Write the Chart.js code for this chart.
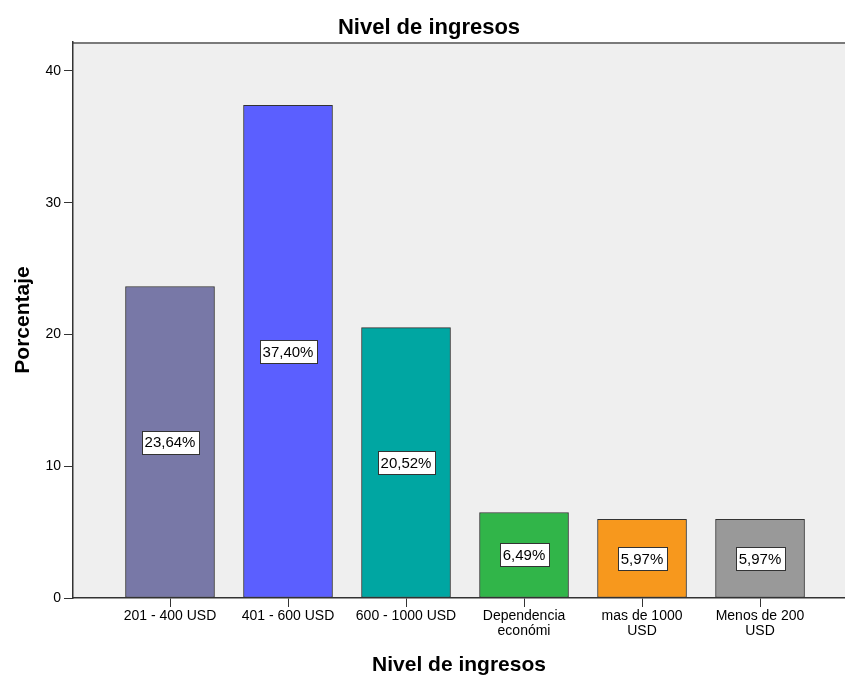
<!DOCTYPE html>
<html>
<head>
    <title>Nivel de ingresos</title>
    <meta charset="utf-8" />
    <style>
        body { margin: 0; background: #fff; }
    </style>
    <script src="https://cdn.jsdelivr.net/npm/chart.js"></script>
</head>
<body>
    <canvas id="myChart" width="845" height="675"></canvas>
<script>
let categories = [
    '201 - 400 USD',
    '401 - 600 USD',
    '600 - 1000 USD',
    ['Dependencia', 'económi'],
    ['mas de 1000', 'USD'],
    ['Menos de 200', 'USD']
];
let porcentajes = [23.64, 37.40, 20.52, 6.49, 5.97, 5.97];
let colores = ['#7878a7', '#5b5fff', '#00a6a2', '#31b549', '#f7981d', '#999999'];
let yTicks = [0, 10, 20, 30, 40];

let fuente = "'Liberation Sans', Arial, sans-serif";

// fondo gris del area de trazado y linea superior
let fondo = {
    id: 'fondo',
    beforeDraw(chart) {
        let ctx = chart.ctx, a = chart.chartArea;
        ctx.save();
        ctx.fillStyle = '#efefef';
        ctx.fillRect(a.left, a.top, a.right - a.left, a.bottom - a.top);
        ctx.strokeStyle = '#7a7a7a';
        ctx.lineWidth = 2;
        ctx.beginPath();
        ctx.moveTo(a.left, a.top + 1);
        ctx.lineTo(a.right, a.top + 1);
        ctx.stroke();
        ctx.restore();
    }
};

// etiquetas de porcentaje en el centro de cada barra
let etiquetas = {
    id: 'etiquetas',
    afterDatasetsDraw(chart) {
        let ctx = chart.ctx;
        let meta = chart.getDatasetMeta(0);
        ctx.save();
        ctx.font = '15px ' + fuente;
        ctx.textAlign = 'center';
        ctx.textBaseline = 'middle';
        meta.data.forEach((bar, i) => {
            let txt = porcentajes[i].toFixed(2).replace('.', ',') + '%';
            let cy = (bar.y + bar.base) / 2;
            let w = Math.round(ctx.measureText(txt).width + 6);
            let h = 23;
            let bx = Math.round(bar.x - w / 2) + 0.5;
            let by = Math.round(cy - h / 2) + 0.5;
            ctx.fillStyle = '#ffffff';
            ctx.fillRect(bx, by, w, h);
            ctx.strokeStyle = '#333333';
            ctx.lineWidth = 1;
            ctx.strokeRect(bx, by, w, h);
            ctx.fillStyle = '#000000';
            ctx.fillText(txt, bar.x, cy + 1);
        });
        ctx.restore();
    }
};

let ctx = document.getElementById('myChart').getContext('2d');
let myChart = new Chart(ctx, {
    type: 'bar',
    data: {
        datasets: [{
            data: porcentajes.map((v, i) => ({ x: i, y: v })),
            backgroundColor: colores,
            borderColor: '#333333',
            borderWidth: 1,
            borderSkipped: false,
            barThickness: 89
        }]
    },
    options: {
        responsive: false,
        animation: false,
        layout: { padding: { left: 13, right: 0, top: 0, bottom: 0 } },
        plugins: {
            legend: { display: false },
            tooltip: { enabled: false },
            title: {
                display: true,
                text: 'Nivel de ingresos',
                color: '#000',
                font: { family: fuente, size: 22, weight: 'bold', lineHeight: 1.1 },
                padding: { top: 16, bottom: 1.8 }
            }
        },
        scales: {
            x: {
                type: 'linear',
                min: -0.822,
                max: 5.72,
                offset: false,
                afterFit(scale) { scale.height = 77; },
                afterBuildTicks(scale) {
                    scale.ticks = categories.map((c, i) => ({ value: i }));
                },
                ticks: {
                    color: '#000',
                    font: { family: fuente, size: 14, lineHeight: 1.05 },
                    padding: 2,
                    maxRotation: 0,
                    autoSkip: false,
                    callback: (v) => categories[v]
                },
                grid: {
                    offset: false,
                    drawOnChartArea: false,
                    drawTicks: true,
                    tickLength: 9,
                    color: '#333'
                },
                border: { display: true, color: '#333', width: 1.5 },
                title: {
                    display: true,
                    text: 'Nivel de ingresos',
                    color: '#000',
                    font: { family: fuente, size: 21, weight: 'bold', lineHeight: 0.85 },
                    padding: { top: 0, bottom: 0.5 }
                }
            },
            y: {
                min: 0,
                max: 42.2,
                afterFit(scale) { scale.width = 60; },
                afterBuildTicks(scale) {
                    scale.ticks = yTicks.map(v => ({ value: v }));
                },
                ticks: {
                    color: '#000',
                    font: { family: fuente, size: 14 },
                    padding: 3
                },
                grid: {
                    drawOnChartArea: false,
                    drawTicks: true,
                    tickLength: 9,
                    color: '#333'
                },
                border: { display: true, color: '#333', width: 1.5 },
                title: {
                    display: true,
                    text: 'Porcentaje',
                    color: '#000',
                    font: { family: fuente, size: 21, weight: 'bold', lineHeight: 1 },
                    padding: { top: 0, bottom: 0 }
                }
            }
        }
    },
    plugins: [fondo, etiquetas]
});
</script>
</body>
</html>
